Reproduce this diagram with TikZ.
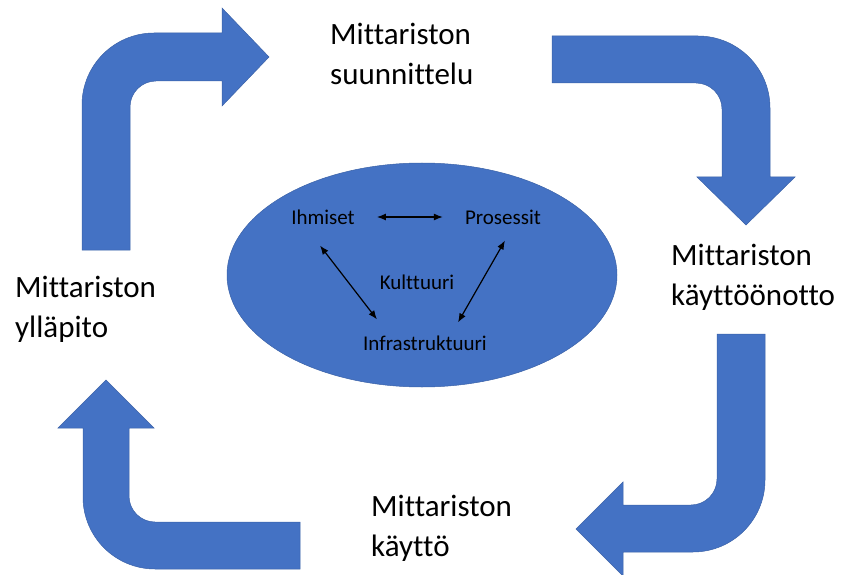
\documentclass[tikz,border=0pt]{standalone}
\usepackage{fontspec}
\setmainfont[Ligatures=NoCommon]{Carlito}
\usetikzlibrary{arrows.meta}
\definecolor{officeblue}{HTML}{4472C4}
\tikzset{
	bigarrow/.style={fill=officeblue, draw=officeblue!85!black, line width=0.5pt},
	phase/.style={align=left, anchor=base west, inner sep=0pt, font=\fontsize{31}{40}\selectfont},
	part/.style={inner sep=2pt, font=\fontsize{21}{25}\selectfont},
	biarrow/.style={{Latex[length=9pt,width=7pt]}-{Latex[length=9pt,width=7pt]}, line width=1.2pt}
}

\begin{document}
\begin{tikzpicture}[x=1pt, y=1pt]
	\useasboundingbox (0,0) rectangle (848,574);
	\path[bigarrow] (82,324) -- (82,469) arc[start angle=180, end angle=90, radius=72pt] -- (222,541) -- (222,566) -- (269,517) -- (222,468) -- (222,493) -- (156,493) arc[start angle=90, end angle=180, radius=26pt] -- (130,324) -- cycle;
	\path[bigarrow] (552,538) -- (698,538) arc[start angle=90, end angle=0, radius=72pt] -- (770,397) -- (795,397) -- (746,349) -- (697,397) -- (722,397) -- (722,465) arc[start angle=0, end angle=90, radius=26pt] -- (552,491) -- cycle;
	\path[bigarrow] (717,240) -- (765,240) -- (765,94) arc[start angle=0, end angle=-90, radius=72pt] -- (623,22) -- (623,-2) -- (576,45) -- (623,92) -- (623,69) -- (691,69) arc[start angle=-90, end angle=0, radius=26pt] -- cycle;
	\path[bigarrow] (300,52) -- (300,5) -- (155,5) arc[start angle=-90, end angle=-180, radius=72pt] -- (83,146) -- (58,146) -- (106,194) -- (154,146) -- (129,146) -- (129,78) arc[start angle=180, end angle=270, radius=26pt] -- cycle;
	\path[bigarrow] (422,299) ellipse [x radius=195pt, y radius=112pt];

	\node[phase] (suun) at (330,489) {Mittariston\\suunnittelu};
	\node[phase] (kayt) at (671,269) {Mittariston\\käyttöönotto};
	\node[phase] (yllap) at (15,237) {Mittariston\\ylläpito};
	\node[phase] (kaytto) at (371,18) {Mittariston\\käyttö};

	\node[part] (ihm) at (323,357) {Ihmiset};
	\node[part] (pro) at (503,357) {Prosessit};
	\node[part] (kul) at (417,292) {Kulttuuri};
	\node[part] (inf) at (425,231) {Infrastruktuuri};

	\draw[biarrow, shorten <=20pt, shorten >=20pt] (ihm) -- (pro);
	\draw[biarrow] ([xshift=-3pt, yshift=-19pt]ihm.south) -- ([xshift=16pt, yshift=14pt]inf.north west);
	\draw[biarrow] ([xshift=2pt, yshift=-14pt]pro.south) -- ([xshift=-31pt, yshift=11pt]inf.north east);
\end{tikzpicture}
\end{document}
